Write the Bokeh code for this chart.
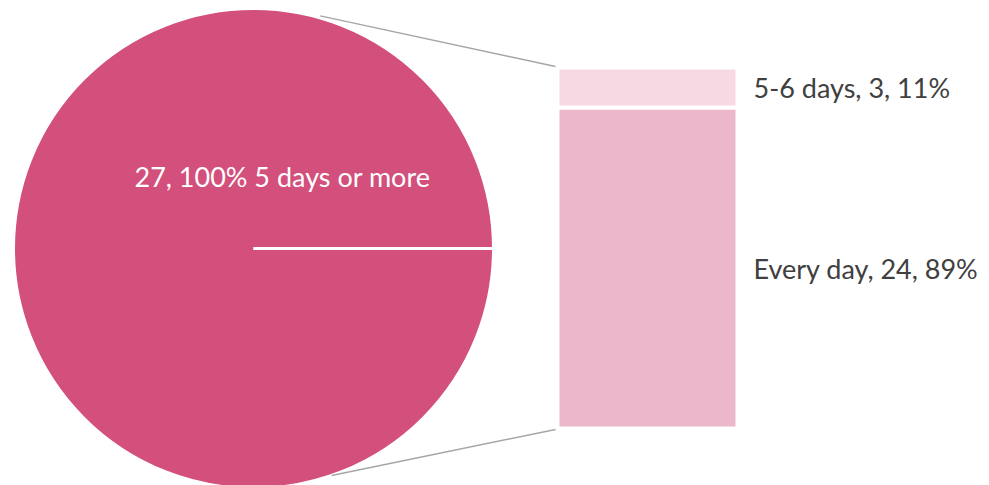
import math
from bokeh.plotting import figure
from bokeh.models import Range1d, ColumnDataSource
from bokeh.core.properties import value
from bokeh.embed import file_html
from bokeh.resources import INLINE

# ---- data ----
pie_categories = ["5 days or more"]
pie_values = [27]
bar_categories = ["Every day", "5-6 days"]
bar_values = [24, 3]

# ---- layout (screen pixels of the page) ----
W, H = 989, 485
X0, Y0 = 0, 0
CX, CY, R = 253, 248, 240
BAR_L, BAR_R = 557, 737
BAR_TOP, BAR_BOT = 67, 428
LABEL_X = 753
FONT = "Lato"
FS = "27px"

PIE_COLOR = "#D34F7C"
BAR_COLORS = ["#EDB7CB", "#F7D9E3"]
TEXT_GREY = "#404040"

p = figure(width=W, height=H, output_backend="svg", toolbar_location=None,
           x_range=Range1d(X0, X0 + W), y_range=Range1d(Y0 + H, Y0),
           min_border=0, outline_line_color=None)
p.axis.visible = False
p.grid.visible = False
p.background_fill_color = "white"
p.border_fill_color = "white"

# ---- pie ----
total = sum(pie_values)
starts, ends = [], []
acc = 0
for v in pie_values:
    starts.append(2 * math.pi * acc / total)
    acc += v
    ends.append(2 * math.pi * acc / total)
pie_src = ColumnDataSource(dict(x=[CX] * len(pie_values), y=[CY] * len(pie_values),
                                start=starts, end=ends))
p.wedge(x="x", y="y", radius=R, start_angle="start", end_angle="end",
        source=pie_src, fill_color=PIE_COLOR, line_color="white", line_width=3)
# slice border (radial line)
for a in starts:
    p.segment(x0=CX, y0=CY, x1=CX + R * math.cos(a), y1=CY - R * math.sin(a),
              line_color="white", line_width=3)

pie_text = [f"{v}, {round(100 * v / total)}% {c}" for c, v in zip(pie_categories, pie_values)]
p.text(x=[282], y=[176], text=pie_text, text_color="white",
       text_font=value(FONT), text_font_size=FS,
       text_align="center", text_baseline="middle")

# ---- bar (own value range) ----
bar_total = sum(bar_values)
ppu = (BAR_BOT - BAR_TOP) / bar_total
lo = -(Y0 + H - BAR_BOT) / ppu
hi = (BAR_BOT - Y0) / ppu
p.extra_y_ranges = {"bar": Range1d(lo, hi)}
bottoms, tops = [], []
acc = 0
for v in bar_values:
    bottoms.append(acc)
    acc += v
    tops.append(acc)
bar_src = ColumnDataSource(dict(x=[(BAR_L + BAR_R) / 2] * len(bar_values),
                                bottom=bottoms, top=tops, color=BAR_COLORS,
                                mid=[(b + t) / 2 for b, t in zip(bottoms, tops)],
                                label=[f"{c}, {v}, {round(100 * v / bar_total)}%"
                                       for c, v in zip(bar_categories, bar_values)]))
p.vbar(x="x", width=BAR_R - BAR_L, bottom="bottom", top="top", fill_color="color",
       line_color="white", line_width=4, source=bar_src, y_range_name="bar")
p.text(x=LABEL_X, y="mid", text="label", source=bar_src, y_range_name="bar",
       text_color=TEXT_GREY, text_font=value(FONT), text_font_size=FS,
       text_align="left", text_baseline="middle")

# ---- connector lines ----
ua, la = math.radians(74), math.radians(-71)
p.segment(x0=[CX + 242 * math.cos(ua), CX + 240 * math.cos(la)],
          y0=[CY - 242 * math.sin(ua), CY - 240 * math.sin(la)],
          x1=[BAR_L - 2, BAR_L - 2], y1=[BAR_TOP - 1, BAR_BOT + 1],
          line_color="#A6A6A6", line_width=1.5)

open("out.html", "w").write(file_html(p, INLINE))
